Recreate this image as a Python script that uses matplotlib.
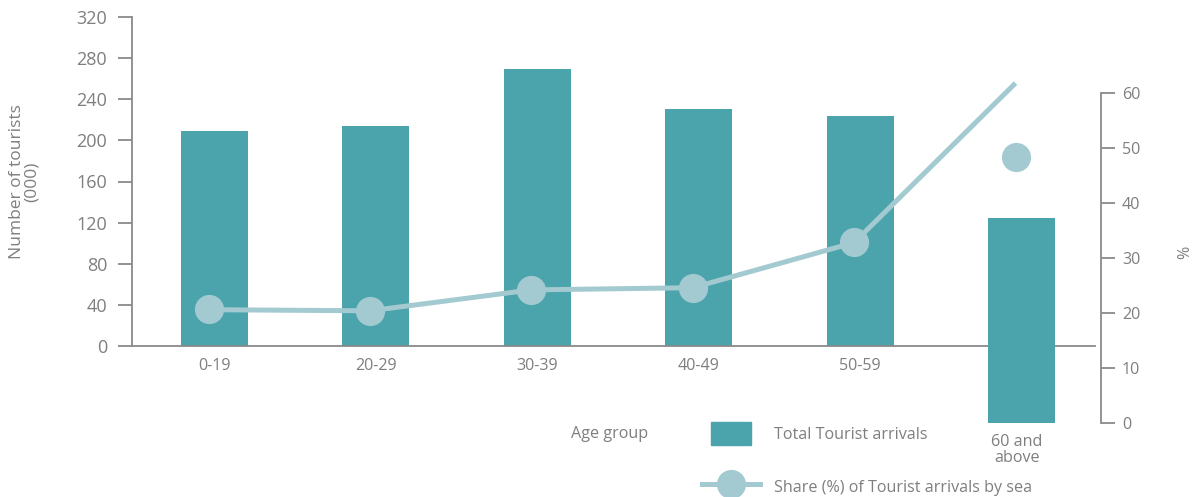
import matplotlib.pyplot as plt
from matplotlib.lines import Line2D
from matplotlib.patches import Patch, Rectangle
from matplotlib.legend_handler import HandlerPatch

plt.rcParams['font.family'] = ['Open Sans', 'DejaVu Sans']
plt.rcParams['font.size'] = 11.6

# data
age_groups = ['0-19', '20-29', '30-39', '40-49', '50-59']
arrivals = [209, 214, 269, 231, 224]          # thousands, left axis
last_group = '60 and\nabove'
last_bar_pct = 37.3                           # last bar is drawn against the right axis
share_line = [20.6, 20.4, 24.2, 24.6, 32.8, 61.8]
share_marker = [20.7, 20.4, 24.2, 24.6, 32.9, 48.4]

bar_color = '#4ba3ac'
line_color = '#a3cad0'
grey = '#8a8a8a'
text_grey = '#7f7f7f'

W, H = 1194, 497
fig = plt.figure(figsize=(W / 100, H / 100), dpi=100)

# pixel geometry of the reference
x0, x_end1, x_end2 = 132, 1095, 1101
cat0, step = 214.5, 161.4
ax1 = fig.add_axes([x0 / W, (H - 346) / H, (x_end1 - x0) / W, (346 - 17) / H])
ax2 = fig.add_axes([x0 / W, (H - 423) / H, (x_end2 - x0) / W, (423 - 93) / H])
ax2.patch.set_alpha(0)

ax1.set_xlim(-(cat0 - x0) / step, (x_end1 - cat0) / step)
ax2.set_xlim(-(cat0 - x0) / step, (x_end2 - cat0) / step)
ax1.set_ylim(0, 320)
ax2.set_ylim(0, 60)

pos = list(range(len(age_groups) + 1))
bw = 0.415
ax1.bar(pos[:-1], arrivals, bw, color=bar_color, zorder=2)
ax2.bar(pos[-1], last_bar_pct, bw, color=bar_color, zorder=2)

shift = -0.037
xs = [p + shift for p in pos]
ax2.plot(xs, share_line, color=line_color, lw=3.6, solid_capstyle='butt',
         zorder=3, clip_on=False)
ax2.plot(xs, share_marker, ls='none', marker='o', ms=21, color=line_color,
         markeredgewidth=0, zorder=4, clip_on=False)

# left axis styling
for s in ['top', 'right']:
    ax1.spines[s].set_visible(False)
ax1.spines['left'].set_color(grey)
ax1.spines['bottom'].set_color(grey)
ax1.spines['left'].set_linewidth(1.3)
ax1.spines['bottom'].set_linewidth(1.3)
ax1.set_yticks(range(0, 321, 40))
ax1.tick_params(axis='y', length=10, width=1.3, color=grey, labelcolor=text_grey,
                pad=8, labelsize=13)
ax1.set_xticks(pos[:-1])
ax1.set_xticklabels(age_groups)
ax1.tick_params(axis='x', length=0, labelcolor=text_grey, pad=9)
ax1.set_ylabel('Number of tourists\n(000)', color=text_grey, linespacing=0.9,
               labelpad=26, fontsize=12.5)

# right axis styling
for s in ['top', 'left', 'bottom']:
    ax2.spines[s].set_visible(False)
ax2.spines['right'].set_color(grey)
ax2.spines['right'].set_linewidth(1.3)
ax2.yaxis.tick_right()
ax2.set_yticks(range(0, 61, 10))
ax2.tick_params(axis='y', length=10, width=1.3, color=grey, labelcolor=text_grey, pad=5)
ax2.set_xticks([pos[-1] + shift * 0.8])
ax2.set_xticklabels([last_group], linespacing=0.95)
ax2.tick_params(axis='x', length=0, labelcolor=text_grey, pad=8)

fig.text(1185 / W, 1 - 252 / H, '%', color=text_grey, rotation=90,
         ha='center', va='center')
fig.text(610 / W, 1 - 434 / H, 'Age group', color=text_grey, ha='center', va='center')


def narrow_patch(legend, orig_handle, xdescent, ydescent, width, height, fontsize):
    w = width * 0.7
    return Rectangle((-xdescent + (width - w) / 2, -ydescent), w, height)


handles = [Patch(color=bar_color),
           Line2D([], [], color=line_color, lw=3.6, marker='o', ms=21, markeredgewidth=0)]
labels = ['Total Tourist arrivals', 'Share (%) of Tourist arrivals by sea']
leg = fig.legend(handles, labels, loc='upper left', bbox_to_anchor=(694 / W, 1 - 414 / H),
                 frameon=False, handlelength=3.6, handleheight=1.8, handletextpad=0.85,
                 labelspacing=1.9, borderpad=0,
                 handler_map={Patch: HandlerPatch(patch_func=narrow_patch)})
for t in leg.get_texts():
    t.set_color(text_grey)

fig.savefig('out.png', dpi=100)
